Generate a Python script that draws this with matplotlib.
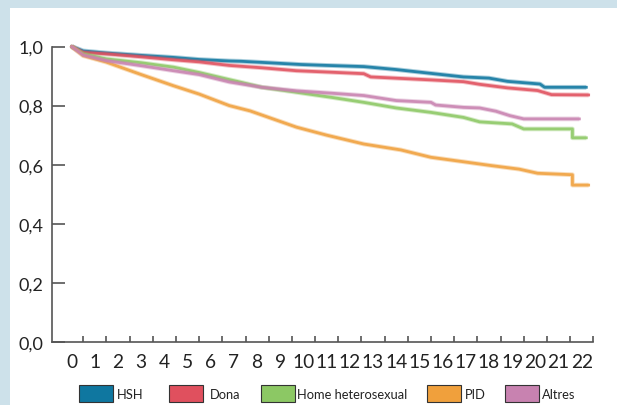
import numpy as np
import matplotlib
matplotlib.use("Agg")
import matplotlib.pyplot as plt
from matplotlib.patches import Rectangle

plt.rcParams['font.family'] = ['Lato', 'DejaVu Sans']

# survival curves (years, proportion surviving)
hsh_t = [0, 0.5, 1.5, 3, 4.4, 5.5, 6.8, 7.3, 8.5, 9.9, 11, 12.6, 14, 15.5, 16.9, 18, 18.8, 20.2, 20.4, 22.2]
hsh_s = [1.0, 0.985, 0.978, 0.970, 0.963, 0.956, 0.951, 0.950, 0.945, 0.939, 0.936, 0.932, 0.922, 0.909, 0.897, 0.893, 0.882, 0.873, 0.862, 0.862]

dona_t = [0, 0.5, 1.5, 3, 4.4, 5.5, 6.8, 8.2, 9.7, 11.2, 12.6, 12.9, 14.2, 15.5, 16.9, 17.6, 18.8, 20.1, 20.7, 22.3]
dona_s = [1.0, 0.980, 0.975, 0.965, 0.955, 0.948, 0.936, 0.928, 0.918, 0.913, 0.908, 0.897, 0.892, 0.887, 0.881, 0.872, 0.860, 0.851, 0.837, 0.836]

het_t = [0, 0.5, 1.5, 3, 4.4, 5.5, 6.8, 7.3, 8.2, 9.7, 11.2, 12.6, 14, 15.5, 16.9, 17.6, 19.0, 19.5, 21.6, 21.6, 22.2]
het_s = [1.0, 0.975, 0.958, 0.945, 0.930, 0.912, 0.888, 0.879, 0.862, 0.845, 0.828, 0.811, 0.792, 0.777, 0.760, 0.745, 0.738, 0.721, 0.721, 0.691, 0.691]

pid_t = [0, 0.5, 1.5, 3, 4.4, 5.5, 6.8, 7.7, 8.5, 9.7, 11, 12.6, 14.2, 15.5, 16.9, 18.1, 19.3, 20.1, 21.6, 21.6, 22.3]
pid_s = [1.0, 0.969, 0.947, 0.905, 0.867, 0.839, 0.800, 0.782, 0.760, 0.727, 0.700, 0.670, 0.650, 0.625, 0.610, 0.597, 0.585, 0.571, 0.566, 0.531, 0.531]

alt_t = [0, 0.5, 1.5, 3, 4.4, 5.5, 6.8, 8.2, 9.7, 11.2, 12.6, 14, 15.5, 15.7, 16.9, 17.6, 18.3, 18.9, 19.5, 21.9]
alt_s = [1.0, 0.971, 0.952, 0.935, 0.918, 0.905, 0.880, 0.862, 0.850, 0.842, 0.834, 0.817, 0.811, 0.802, 0.794, 0.792, 0.781, 0.766, 0.755, 0.755]

labels = ["HSH", "Dona", "Home heterosexual", "PID", "Altres"]
colors = ["#0f77a0", "#e0505e", "#8cc864", "#f0a03c", "#c882b0"]
series = [(hsh_t, hsh_s), (dona_t, dona_s), (het_t, het_s), (pid_t, pid_s), (alt_t, alt_s)]
years = list(range(23))

fig = plt.figure(figsize=(6.17, 4.06), dpi=100)
fig.patch.set_facecolor("#cde1ea")
fig.patches.append(Rectangle((10 / 617, 0), 1, 397 / 406, transform=fig.transFigure,
                             facecolor="white", edgecolor="none", zorder=-5))

ax = fig.add_axes([51.7 / 617, 1 - 343 / 406, (593.3 - 51.7) / 617, (343 - 47.5) / 406])
ax.set_facecolor("none")

for (t, s), c in zip(series, colors):
    ax.plot(t, s, color=c, lw=3.4, alpha=0.35, solid_capstyle="butt", clip_on=False)
    ax.plot(t, s, color=c, lw=2.0, alpha=0.85, clip_on=False)

ax.set_xlim(-0.86, 22.5)
ax.set_ylim(0, 1.0)

ax.spines["top"].set_visible(False)
ax.spines["right"].set_visible(False)
for sp in ["left", "bottom"]:
    ax.spines[sp].set_color("#555555")
    ax.spines[sp].set_linewidth(1.2)

ax.set_yticks([0, 0.2, 0.4, 0.6, 0.8, 1.0])
ax.set_yticklabels(["0,0", "0,2", "0,4", "0,6", "0,8", "1,0"])
ax.tick_params(axis="y", direction="in", length=9.4, width=1.2, color="#555555",
               labelsize=13, pad=6, labelcolor="#222222")

ax.set_xticks(np.array(years) + 0.5)
ax.set_xticklabels([])
ax.set_xticks(years, minor=True)
ax.set_xticklabels([str(y) for y in years], minor=True)
ax.tick_params(axis="x", which="major", direction="in", length=4.5, width=1.2, color="#555555")
ax.tick_params(axis="x", which="minor", length=0, labelsize=13.8, pad=8, labelcolor="#222222")

# legend along the bottom
box_x = [79, 169, 261, 427, 505]
txt_x = [117, 210, 297, 465, 542]
for bx, tx, c, lab in zip(box_x, txt_x, colors, labels):
    fig.patches.append(Rectangle((bx / 617, 1 - 403 / 406), 34 / 617, 17 / 406,
                                 transform=fig.transFigure, facecolor=c,
                                 edgecolor="#333333", lw=0.8, zorder=2))
    fig.text(tx / 617, 1 - 395 / 406, lab, ha="left", va="center", fontsize=9.3,
             color="#222222")

fig.savefig("out.png", dpi=100, facecolor=fig.get_facecolor())
